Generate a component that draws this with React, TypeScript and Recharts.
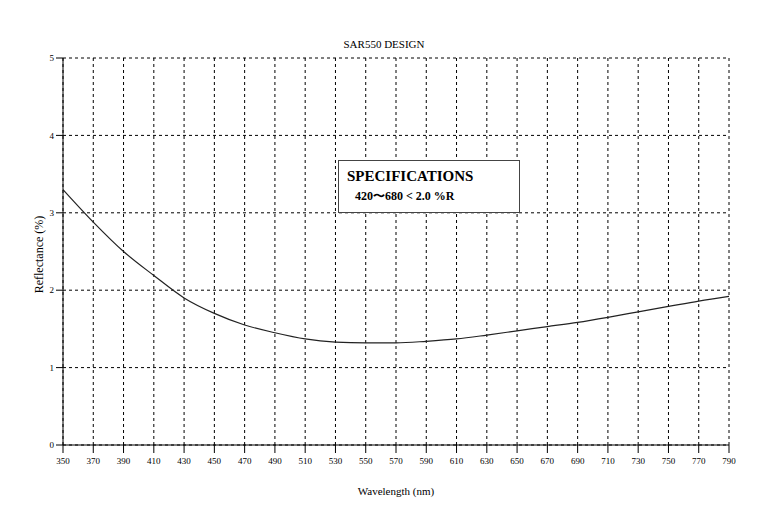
import React from "react";
import { LineChart, Line, XAxis, YAxis, CartesianGrid, Label } from "recharts";

const wavelengths = [350, 370, 390, 410, 430, 450, 470, 490, 510, 530, 550, 570, 590, 610, 630, 650, 670, 690, 710, 730, 750, 770, 790];
const reflectance = [3.3, 2.88, 2.5, 2.19, 1.9, 1.7, 1.55, 1.45, 1.37, 1.33, 1.32, 1.32, 1.34, 1.37, 1.42, 1.475, 1.53, 1.585, 1.65, 1.72, 1.79, 1.86, 1.92];
const xTicks = [350, 370, 390, 410, 430, 450, 470, 490, 510, 530, 550, 570, 590, 610, 630, 650, 670, 690, 710, 730, 750, 770, 790];
const yTicks = [0, 1, 2, 3, 4, 5];

const title = "SAR550 DESIGN";
const specTitle = "SPECIFICATIONS";
const specLine = "420〜680 < 2.0 %R";

const data = wavelengths.map((w, i) => ({ w, r: reflectance[i] }));

const serif = "'Liberation Serif', 'Times New Roman', serif";

export default function App() {
  return (
    <div style={{ position: "absolute", left: 0, top: 0, width: 780, height: 520, background: "#fff", fontFamily: serif }}>
      <LineChart width={780} height={520} data={data} margin={{ top: 58, right: 51, left: 20, bottom: 20 }}>
        <CartesianGrid stroke="#000" strokeDasharray="3 3" strokeWidth={1} />
        <XAxis
          dataKey="w"
          type="number"
          domain={[350, 790]}
          ticks={xTicks}
          interval={0}
          height={55}
          stroke="#000"
          tickSize={8}
          tickMargin={5}
          tick={{ fill: "#000", fontSize: 9, fontFamily: serif }}
        >
          <Label value="Wavelength (nm)" position="insideBottom" offset={5} style={{ fill: "#000", fontSize: 11, fontFamily: serif }} />
        </XAxis>
        <YAxis
          type="number"
          domain={[0, 5]}
          ticks={yTicks}
          interval={0}
          width={43}
          stroke="#000"
          tickSize={7}
          tickMargin={2}
          tick={{ fill: "#000", fontSize: 9, fontFamily: serif }}
        >
          <Label
            content={(props: any) => {
              const vb = props.viewBox || {};
              const cx = (vb.x || 0) + 19;
              const cy = (vb.y || 0) + (vb.height || 0) / 2 + 3;
              return (
                <text x={cx} y={cy} transform={`rotate(-90, ${cx}, ${cy})`} textAnchor="middle" dominantBaseline="central" style={{ fill: "#000", fontSize: 12, fontFamily: serif }}>
                  Reflectance (%)
                </text>
              );
            }}
          />
        </YAxis>
        <Line type="monotone" dataKey="r" stroke="#222" strokeWidth={1.2} dot={false} isAnimationActive={false} />
      </LineChart>
      <div style={{ position: "absolute", left: 0, top: 37, width: 768, textAlign: "center", fontSize: 11, lineHeight: "14px", color: "#000", fontFamily: serif }}>
        {title}
      </div>
      <div style={{ position: "absolute", left: 338, top: 160, width: 180, height: 51, background: "#fff", border: "1px solid #444", fontFamily: serif, color: "#000" }}>
        <div style={{ position: "absolute", left: 8, top: 6, fontSize: 15, fontWeight: "bold", lineHeight: "18px", whiteSpace: "nowrap" }}>{specTitle}</div>
        <div style={{ position: "absolute", left: 16, top: 28, fontSize: 12, fontWeight: "bold", lineHeight: "15px", whiteSpace: "nowrap" }}>{specLine}</div>
      </div>
    </div>
  );
}
